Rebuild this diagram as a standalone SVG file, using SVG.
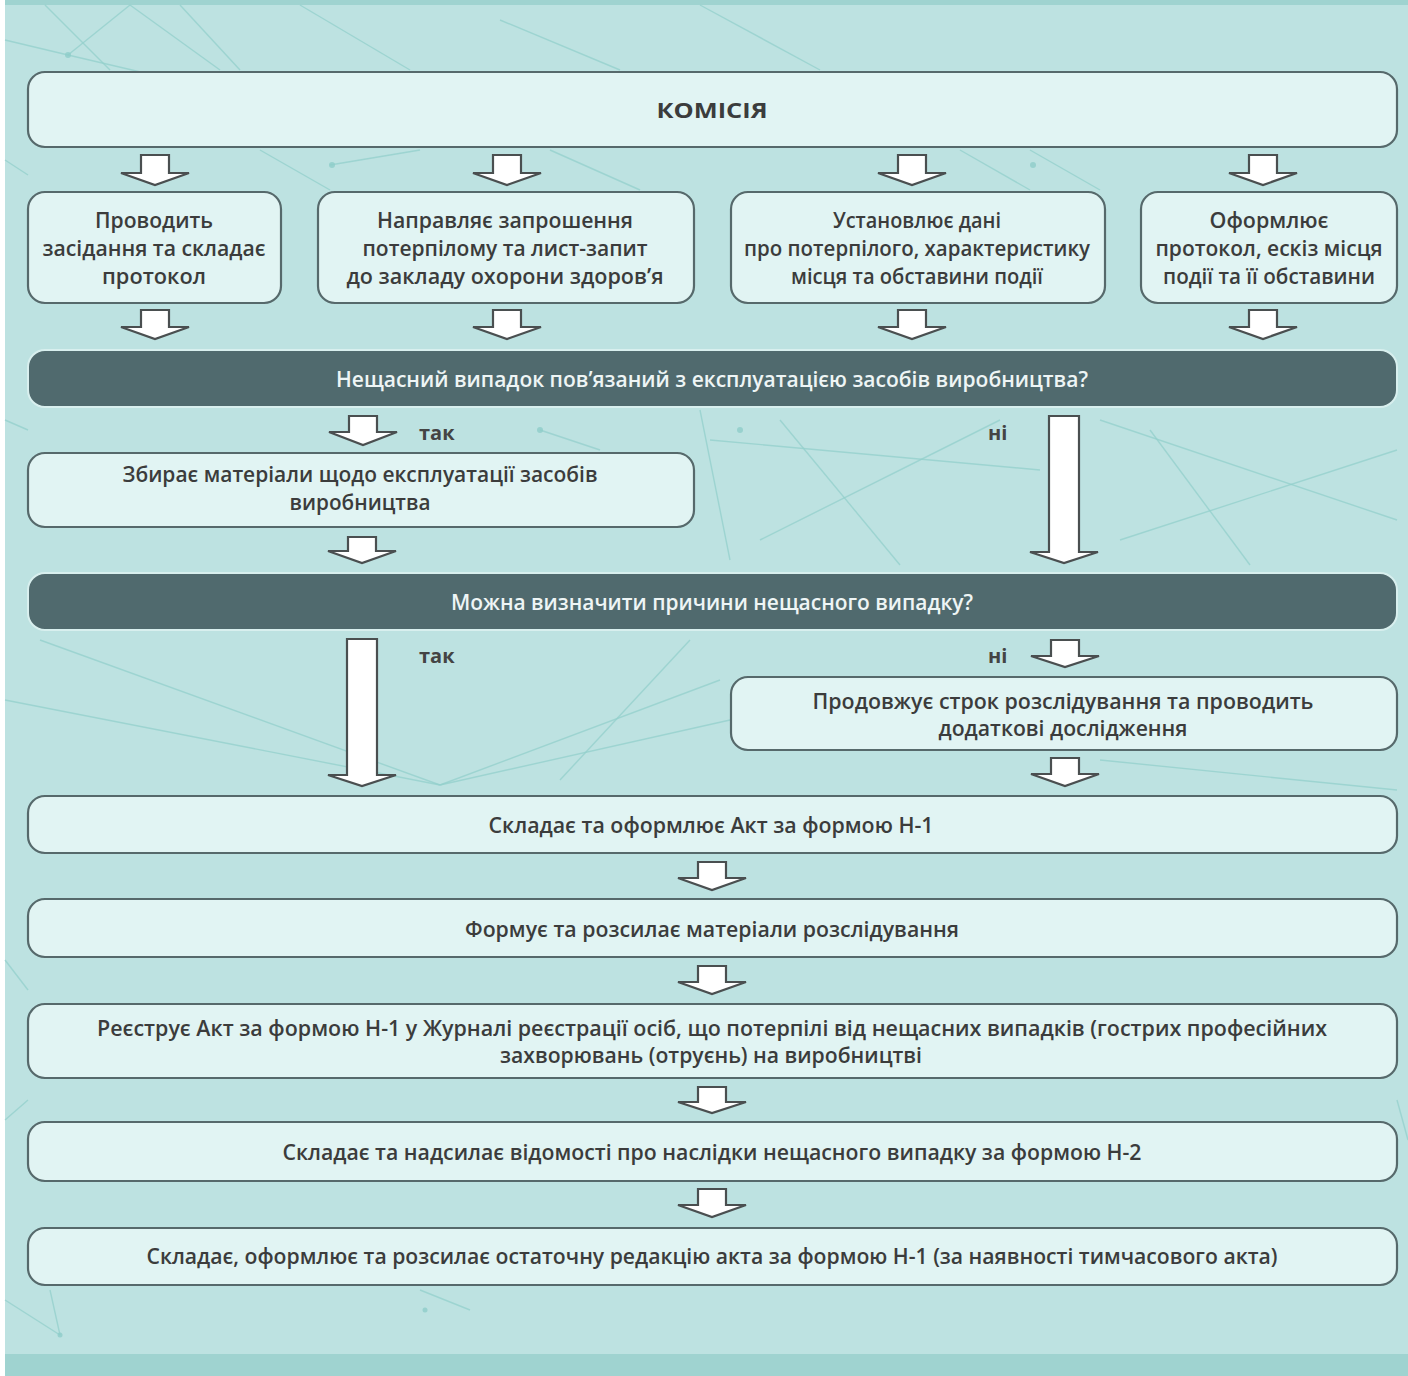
<svg xmlns="http://www.w3.org/2000/svg" width="1408" height="1376" viewBox="0 0 1408 1376">
<defs>
<style>
.bg{fill:#bde2e1}
.deco line{stroke:#93d0cc;stroke-width:1.4;opacity:.75}
.deco circle{fill:#8fcdc9;opacity:.8}
.box{fill:#e1f4f3;stroke:#56696b;stroke-width:2.2}
.dark{fill:#506a6e;stroke:#d8efee;stroke-width:2}
.t{font-family:"Open Sans","Noto Sans","DejaVu Sans",sans-serif;font-size:21px;font-weight:600;fill:#3b3c3c;text-anchor:middle}
.tw{font-family:"Open Sans","Noto Sans","DejaVu Sans",sans-serif;font-size:21px;font-weight:600;fill:#eef5f5;text-anchor:middle}
.lbl{font-family:"Open Sans","Noto Sans","DejaVu Sans",sans-serif;font-size:20px;font-weight:700;fill:#444}
.arr{fill:#ffffff;stroke:#4a4f50;stroke-width:2.2;stroke-linejoin:miter}
</style>
</defs>
<rect x="0" y="0" width="1408" height="1376" fill="#ffffff"/>
<rect class="bg" x="5" y="0" width="1403" height="1376"/>
<rect x="5" y="0" width="1403" height="5" fill="#9fd3d0"/>
<rect x="5" y="1354" width="1403" height="22" fill="#9fd3d0"/>
<g class="deco">
<line x1="5" y1="40" x2="68" y2="55"/><line x1="68" y1="55" x2="130" y2="5"/><line x1="68" y1="55" x2="260" y2="100"/>
<line x1="45" y1="5" x2="110" y2="70"/><line x1="130" y1="5" x2="220" y2="70"/><line x1="180" y1="5" x2="240" y2="70"/>
<line x1="300" y1="5" x2="410" y2="70"/><line x1="500" y1="20" x2="620" y2="70"/><line x1="700" y1="5" x2="820" y2="70"/>
<line x1="260" y1="150" x2="330" y2="190"/><line x1="330" y1="165" x2="420" y2="150"/><line x1="550" y1="150" x2="640" y2="190"/>
<line x1="960" y1="150" x2="1030" y2="190"/><line x1="1030" y1="150" x2="1100" y2="190"/><line x1="5" y1="160" x2="28" y2="175"/>
<line x1="5" y1="420" x2="28" y2="430"/><line x1="700" y1="410" x2="730" y2="560"/><line x1="710" y1="440" x2="1040" y2="470"/>
<line x1="1100" y1="420" x2="1397" y2="520"/><line x1="1120" y1="540" x2="1397" y2="450"/><line x1="760" y1="540" x2="1000" y2="420"/>
<line x1="780" y1="420" x2="900" y2="565"/><line x1="1150" y1="430" x2="1250" y2="565"/><line x1="540" y1="430" x2="600" y2="450"/>
<line x1="40" y1="640" x2="440" y2="785"/><line x1="5" y1="700" x2="440" y2="785"/><line x1="440" y1="785" x2="720" y2="680"/>
<line x1="440" y1="785" x2="730" y2="720"/><line x1="560" y1="780" x2="690" y2="640"/><line x1="1100" y1="760" x2="1397" y2="790"/>
<line x1="5" y1="1300" x2="60" y2="1335"/><line x1="50" y1="1290" x2="60" y2="1335"/><line x1="420" y1="1290" x2="470" y2="1310"/>
<line x1="5" y1="1120" x2="28" y2="1100"/><line x1="1397" y1="1100" x2="1408" y2="1140"/><line x1="5" y1="960" x2="28" y2="990"/>
<circle cx="68" cy="55" r="3"/><circle cx="332" cy="165" r="3"/><circle cx="1033" cy="165" r="3"/><circle cx="540" cy="430" r="3"/><circle cx="740" cy="430" r="3"/><circle cx="1075" cy="517" r="3"/><circle cx="60" cy="1335" r="2.5"/><circle cx="425" cy="1310" r="2.5"/>
</g>
<g id="connectors">
<polygon class="arr" points="141,155 169,155 169,173 189,173 155,185 121,173 141,173"/>
<polygon class="arr" points="493,155 521,155 521,173 541,173 507,185 473,173 493,173"/>
<polygon class="arr" points="898,155 926,155 926,173 946,173 912,185 878,173 898,173"/>
<polygon class="arr" points="1249,155 1277,155 1277,173 1297,173 1263,185 1229,173 1249,173"/>
<polygon class="arr" points="141,310 169,310 169,327 189,327 155,339 121,327 141,327"/>
<polygon class="arr" points="493,310 521,310 521,327 541,327 507,339 473,327 493,327"/>
<polygon class="arr" points="898,310 926,310 926,327 946,327 912,339 878,327 898,327"/>
<polygon class="arr" points="1249,310 1277,310 1277,327 1297,327 1263,339 1229,327 1249,327"/>
<polygon class="arr" points="349,416 377,416 377,432 397,432 363,445 329,432 349,432"/>
<polygon class="arr" points="1049,416 1079,416 1079,552 1098,552 1064,563 1030,552 1049,552"/>
<polygon class="arr" points="348,537 376,537 376,551 396,551 362,563 328,551 348,551"/>
<polygon class="arr" points="347,639 377,639 377,775 396,775 362,786 328,775 347,775"/>
<polygon class="arr" points="1051,640 1079,640 1079,656 1099,656 1065,667 1031,656 1051,656"/>
<polygon class="arr" points="1051,758 1079,758 1079,774 1099,774 1065,786 1031,774 1051,774"/>
<polygon class="arr" points="698,862 726,862 726,878 746,878 712,890 678,878 698,878"/>
<polygon class="arr" points="698,966 726,966 726,982 746,982 712,994 678,982 698,982"/>
<polygon class="arr" points="698,1087 726,1087 726,1102 746,1102 712,1113 678,1102 698,1102"/>
<polygon class="arr" points="698,1189 726,1189 726,1205 746,1205 712,1217 678,1205 698,1205"/>
<text class="lbl" x="419" y="440">так</text>
<text class="lbl" x="988" y="440">ні</text>
<text class="lbl" x="419" y="663">так</text>
<text class="lbl" x="988" y="663">ні</text>
</g>
<g id="n-komisiia">
<rect class="box" x="28" y="72" width="1369" height="75" rx="17"/>
<text class="t" x="712" y="118" style="font-weight:700" textLength="111" lengthAdjust="spacingAndGlyphs">КОМІСІЯ</text>
</g>
<g id="n-provodyt">
<rect class="box" x="28" y="192" width="253" height="111" rx="17"/>
<text class="t" x="154" y="228" textLength="118" lengthAdjust="spacingAndGlyphs">Проводить</text>
<text class="t" x="154" y="256" textLength="223" lengthAdjust="spacingAndGlyphs">засідання та складає</text>
<text class="t" x="154" y="284" textLength="104" lengthAdjust="spacingAndGlyphs">протокол</text>
</g>
<g id="n-napravliaie">
<rect class="box" x="318" y="192" width="376" height="111" rx="17"/>
<text class="t" x="505" y="228" textLength="256" lengthAdjust="spacingAndGlyphs">Направляє запрошення</text>
<text class="t" x="505" y="256" textLength="285" lengthAdjust="spacingAndGlyphs">потерпілому та лист-запит</text>
<text class="t" x="505" y="284" textLength="317" lengthAdjust="spacingAndGlyphs">до закладу охорони здоров’я</text>
</g>
<g id="n-ustanovliuie">
<rect class="box" x="731" y="192" width="374" height="111" rx="17"/>
<text class="t" x="917" y="228" textLength="168" lengthAdjust="spacingAndGlyphs">Установлює дані</text>
<text class="t" x="917" y="256" textLength="346" lengthAdjust="spacingAndGlyphs">про потерпілого, характеристику</text>
<text class="t" x="917" y="284" textLength="252" lengthAdjust="spacingAndGlyphs">місця та обставини події</text>
</g>
<g id="n-oformliuie">
<rect class="box" x="1141" y="192" width="256" height="111" rx="17"/>
<text class="t" x="1269" y="228" textLength="119" lengthAdjust="spacingAndGlyphs">Оформлює</text>
<text class="t" x="1269" y="256" textLength="227" lengthAdjust="spacingAndGlyphs">протокол, ескіз місця</text>
<text class="t" x="1269" y="284" textLength="212" lengthAdjust="spacingAndGlyphs">події та її обставини</text>
</g>
<g id="n-pytannia1">
<rect class="dark" x="28" y="350" width="1369" height="57" rx="17"/>
<text class="tw" x="712" y="387" textLength="752" lengthAdjust="spacingAndGlyphs">Нещасний випадок пов’язаний з експлуатацією засобів виробництва?</text>
</g>
<g id="n-zbyraie">
<rect class="box" x="28" y="453" width="666" height="74" rx="17"/>
<text class="t" x="360" y="482" textLength="475" lengthAdjust="spacingAndGlyphs">Збирає матеріали щодо експлуатації засобів</text>
<text class="t" x="360" y="510" textLength="141" lengthAdjust="spacingAndGlyphs">виробництва</text>
</g>
<g id="n-pytannia2">
<rect class="dark" x="28" y="573" width="1369" height="57" rx="17"/>
<text class="tw" x="712" y="610" textLength="522" lengthAdjust="spacingAndGlyphs">Можна визначити причини нещасного випадку?</text>
</g>
<g id="n-prodovzhuie">
<rect class="box" x="731" y="677" width="666" height="73" rx="17"/>
<text class="t" x="1063" y="709" textLength="501" lengthAdjust="spacingAndGlyphs">Продовжує строк розслідування та проводить</text>
<text class="t" x="1063" y="736" textLength="249" lengthAdjust="spacingAndGlyphs">додаткові дослідження</text>
</g>
<g id="n-akt-n1">
<rect class="box" x="28" y="796" width="1369" height="57" rx="17"/>
<text class="t" x="711" y="833" textLength="445" lengthAdjust="spacingAndGlyphs">Складає та оформлює Акт за формою Н-1</text>
</g>
<g id="n-formuie">
<rect class="box" x="28" y="899" width="1369" height="58" rx="17"/>
<text class="t" x="712" y="937" textLength="494" lengthAdjust="spacingAndGlyphs">Формує та розсилає матеріали розслідування</text>
</g>
<g id="n-reiestruie">
<rect class="box" x="28" y="1004" width="1369" height="74" rx="17"/>
<text class="t" x="712" y="1036" textLength="1230" lengthAdjust="spacingAndGlyphs">Реєструє Акт за формою Н-1 у Журналі реєстрації осіб, що потерпілі від нещасних випадків (гострих професійних</text>
<text class="t" x="711" y="1063" textLength="422" lengthAdjust="spacingAndGlyphs">захворювань (отруєнь) на виробництві</text>
</g>
<g id="n-n2">
<rect class="box" x="28" y="1122" width="1369" height="59" rx="17"/>
<text class="t" x="712" y="1160" textLength="859" lengthAdjust="spacingAndGlyphs">Складає та надсилає відомості про наслідки нещасного випадку за формою Н-2</text>
</g>
<g id="n-ostatochna">
<rect class="box" x="28" y="1228" width="1369" height="57" rx="17"/>
<text class="t" x="712" y="1264" textLength="1131" lengthAdjust="spacingAndGlyphs">Складає, оформлює та розсилає остаточну редакцію акта за формою Н-1 (за наявності тимчасового акта)</text>
</g>
</svg>
